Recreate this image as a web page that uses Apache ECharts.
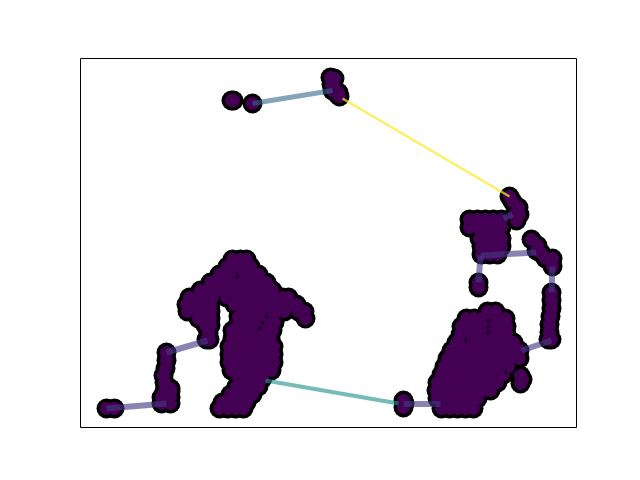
<!DOCTYPE html>
<html>
<head>
<meta charset="utf-8">
<style>html,body{margin:0;padding:0;background:#fff}#c{width:640px;height:480px}</style>
<script src="https://cdn.jsdelivr.net/npm/echarts@6/dist/echarts.min.js"></script>
</head>
<body>
<div id="c"></div>
<script>
// Points: each row is [y, x, x, ...]
const leftTail = [[408,106,114],[403,161,170],[397,161,170],[391,170,164],[388,165,170],[382,164],[375,163],[368,165],[360,166],[352,166]];
const upperBlob = [
  [259,232,240,246],[266,227,235,243,250],[274,219,227,235,243,251,258],
  [282,210,218,226,234,242,250,258,266],[290,200,208,216,224,232,240,248,256,264,272],
  [297,189,197,205,212,226,234,242,250,258,266,274,282,288],
  [304,186,194,202,210,234,242,250,258,266,274,282,290,296],
  [311,187,195,203,210,244,252,260,268,276,284,298,304],[318,198,206,210,305],[325,205,210],[333,208],[339,206,209]
];
const lowerBody = [
  [316,238,246,254,262,272],
  [322,238,246,254,262,270,274],[330,232,240,248,256,264,272],[338,232,240,248,256,264,270],
  [346,229,237,245,253,261,269,273],[354,229,237,245,253,261,269,273],[362,229,237,245,253,261,269,273],
  [370,231,239,247,255,263,271],[378,238,246,254,262],[386,236,244,252,258],[394,230,238,246,252],
  [402,222,230,238,246],[408,219,227,235,243]
];
const bigBlob = [
  [311,487,495],[318,466,474,482,490,498,505],[326,461,469,477,485,493,501,506],
  [334,460,468,476,484,492,500,506],[342,456,464,472,480,488,496,504,513],
  [350,451,459,467,475,483,491,499,507,515,519],[358,447,455,463,471,479,487,495,503,511,519],
  [366,444,452,460,468,476,484,492,500,508],[374,441,449,457,465,473,481,489,497,503],
  [382,437,445,453,461,469,477,485,493,497],[390,436,444,452,460,468,476,484,490],
  [398,437,445,453,461,469,477],[408,441,449,457,465,473]
];
const rightSide = [
  [375,520],[383,520],[379,522],[400,403],[407,403],[403,404],
  [339,551,548],[332,549],[324,549],[316,550],[308,551],[300,551],[292,551],
  [266,552],[258,545,552],[253,541],[250,536],[245,537],[239,531],
  [287,478],[282,478],
  [254,481,489,497],[246,481,489,497,501],[238,479,487,495,501],[227,469,477,485,493,501],[219,469,477,485,493,501],
  [220,516],[214,519,514],[207,518],[201,512],[196,509]
];
const topPart = [[96,339],[94,337],[92,338],[90,332],[86,333],[84,331],[78,334],[77,330],[103,252],[100,231,233]];
// Thin dark streaks left inside the blobs
const streaks = [[276,237],[316,266],[322,262],[328,259],[320,488],[326,488],[332,488],[340,465],[372,505]].map(p => [p[1], p[0]]);

// Connecting path segments: [x1, y1, x2, y2]
const purpleSegments = [
  [106,408,166,403],[166,352,207,340],[403,403,440,403],[521,350,551,340],
  [552,266,551,292],[480,255,536,252],[480,255,478,282],[503,218,512,214]
];
const blueSegments = [[332,90,252,103]];
const tealSegments = [[265,380,398,403]];
const yellowSegments = [[509,196,342,98]];

const markerGroups = [leftTail, upperBlob, lowerBody, bigBlob, rightSide, topPart];
const points = markerGroups.flat().flatMap(r => r.slice(1).map(x => [x, r[0]]));
const segSeries = (segs, color, width, opacity) => ({
  type: 'lines', coordinateSystem: 'cartesian2d', silent: true, z: 5,
  lineStyle: { color, width, opacity, cap: 'butt' },
  data: segs.map(s => ({ coords: [[s[0], s[1]], [s[2], s[3]]] }))
});

const chart = echarts.init(document.getElementById('c'), null, { renderer: 'canvas' });
const hiddenAxis = { type: 'value', axisLabel: { show: false }, axisTick: { show: false }, splitLine: { show: false }, axisLine: { show: false } };
chart.setOption({
  animation: false,
  backgroundColor: '#fff',
  grid: { left: 80.5, right: 63.5, top: 58.5, bottom: 52.5, show: true, borderColor: '#000', borderWidth: 1, backgroundColor: '#fff' },
  xAxis: Object.assign({ min: 80, max: 576 }, hiddenAxis),
  yAxis: Object.assign({ min: 58, max: 427, inverse: true }, hiddenAxis),
  series: [
    { type: 'scatter', silent: true, z: 2, symbolSize: 20, itemStyle: { color: '#000', opacity: 1 }, data: points },
    { type: 'scatter', silent: true, z: 3, symbolSize: 13, itemStyle: { color: '#440154', opacity: 1 }, data: points },
    { type: 'scatter', silent: true, z: 4, symbolSize: 4, itemStyle: { color: '#1a0024', opacity: 0.9 }, data: streaks },
    segSeries(purpleSegments, '#443983', 6, 0.62),
    segSeries(blueSegments, '#31688e', 5, 0.6),
    segSeries(tealSegments, '#21918c', 4, 0.62),
    segSeries(yellowSegments, '#fde725', 2.5, 0.72)
  ]
});
</script>
</body>
</html>
